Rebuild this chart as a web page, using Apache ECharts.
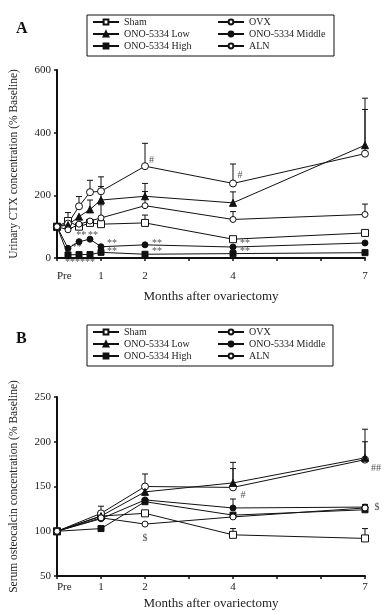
<!DOCTYPE html>
<html>
<head>
<meta charset="utf-8">
<script src="https://cdn.jsdelivr.net/npm/echarts@6/dist/echarts.min.js"></script>
<style>
html,body{margin:0;padding:0;background:#fff;}
#chart{width:383px;height:612px;}
</style>
</head>
<body>
<div id="chart"></div>
<script>
// months after ovariectomy (0 = Pre)
var monthsA = [0, 0.25, 0.5, 0.75, 1, 2, 4, 7];
var monthsB = [0, 1, 2, 4, 7];
var monthLabels = {0: 'Pre', 1: '1', 2: '2', 4: '4', 7: '7'};
var names = ['Sham', 'OVX', 'ONO-5334 Low', 'ONO-5334 Middle', 'ONO-5334 High', 'ALN'];

// panel A: urinary CTX (% baseline)
var ctxSham = [100, 118, 100, 112, 108, 112, 60, 80];
var ctxOvx = [100, 110, 165, 210, 213, 293, 238, 333];
var ctxLow = [100, 105, 132, 155, 185, 197, 176, 360];
var ctxMid = [100, 31, 52, 60, 36, 42, 35, 48];
var ctxHigh = [100, 10, 11, 11, 18, 12, 14, 17];
var ctxAln = [100, 90, 108, 118, 128, 167, 123, 139];
// upper end of error bars
var ctxShamErr = [null, null, null, null, null, 137, null, null];
var ctxOvxErr = [null, 145, 196, 248, 259, 366, 300, 474];
var ctxLowErr = [null, null, null, 185, 228, 238, 211, 510];
var ctxAlnErr = [null, null, null, null, 170, 212, 148, 172];
var ctxNotes = [[2.15, 313, '#'], [4.16, 265, '#'], [0.55, 71, '**'], [0.82, 71, '**'],
  [0.45, 34, '**'], [1.25, 48, '**'], [1.25, 22, '**'], [2.27, 48, '**'], [2.27, 20, '**'],
  [4.27, 48, '**'], [4.27, 22, '**'], [0.52, -14, '******']];

// panel B: serum osteocalcin (% baseline)
var ocSham = [100, 117, 120, 96, 92];
var ocOvx = [100, 120, 150, 149, 180];
var ocLow = [100, 117, 144, 154, 182];
var ocMid = [100, 114, 135, 126, 127];
var ocHigh = [100, 103, 133, 118, 124];
var ocAln = [100, 115, 108, 116, 126];
var ocShamErr = [null, null, null, 103, 103];
var ocOvxErr = [null, 128, 164, 170, 200];
var ocLowErr = [null, null, null, 177, 214];
var ocMidErr = [null, null, null, 136, 130];
var ocNotes = [[2, 92, '$'], [4.23, 140, '#'], [7.25, 170, '##'], [7.27, 127, '$']];

var symbols = {
	'Sham': {symbol: 'rect', size: 7, fill: '#fff'},
	'OVX': {symbol: 'circle', size: 7, fill: '#fff'},
	'ONO-5334 Low': {symbol: 'triangle', size: 7, fill: '#111'},
	'ONO-5334 Middle': {symbol: 'circle', size: 6, fill: '#111'},
	'ONO-5334 High': {symbol: 'rect', size: 6, fill: '#111'},
	'ALN': {symbol: 'circle', size: 6, fill: '#fff'}
};
var serifFont = '"Liberation Serif", "DejaVu Serif", serif';

function pairs(xs, ys){
	var out = [];
	for(var i = 0; i < xs.length; i++){
		out.push([xs[i], ys[i]]);
	}
	return out;
}
function errData(xs, ys, errs){
	var out = [];
	for(var i = 0; i < xs.length; i++){
		if(errs[i] != null) out.push([xs[i], ys[i], errs[i]]);
	}
	return out;
}
function lineSeries(name, idx, xs, ys){
	var s = symbols[name];
	return {
		name: name, type: 'line', xAxisIndex: idx, yAxisIndex: idx,
		data: pairs(xs, ys), symbol: s.symbol, symbolSize: s.size,
		showAllSymbol: true, z: 3,
		lineStyle: {color: '#111', width: 1},
		itemStyle: {color: s.fill, borderColor: '#111', borderWidth: 1, opacity: 1},
		emphasis: {disabled: true}
	};
}
function errSeries(idx, data){
	return {
		type: 'custom', xAxisIndex: idx, yAxisIndex: idx, data: data, z: 2,
		renderItem: function(params, api){
			var base = api.coord([api.value(0), api.value(1)]);
			var top = api.coord([api.value(0), api.value(2)]);
			return {
				type: 'group',
				children: [
					{type: 'line', shape: {x1: base[0], y1: base[1], x2: top[0], y2: top[1]}, style: {stroke: '#111', lineWidth: 1}},
					{type: 'line', shape: {x1: top[0] - 3, y1: top[1], x2: top[0] + 3, y2: top[1]}, style: {stroke: '#111', lineWidth: 1}}
				]
			};
		}
	};
}
function noteSeries(idx, data){
	return {
		type: 'scatter', xAxisIndex: idx, yAxisIndex: idx, data: data,
		symbolSize: 0, clip: false, silent: true, z: 4,
		label: {show: true, position: 'inside', color: '#222', fontFamily: serifFont, fontSize: 10,
			formatter: function(p){ return p.data[2]; }}
	};
}
function xAxisOpt(idx){
	return {
		type: 'value', gridIndex: idx, min: 0, max: 7, interval: 1,
		name: 'Months after ovariectomy', nameLocation: 'middle', nameGap: idx == 0 ? 32 : 21,
		nameTextStyle: {color: '#222', fontFamily: serifFont, fontSize: 13},
		axisLine: {lineStyle: {color: '#111', width: 2}},
		axisTick: {lineStyle: {color: '#111', width: 1.5}, length: 3},
		splitLine: {show: false},
		axisLabel: {color: '#222', fontFamily: serifFont, fontSize: 11, margin: idx == 0 ? 13 : 6,
			alignMinLabel: 'left',
			formatter: function(v){ return monthLabels[v] || ''; }}
	};
}
function yAxisOpt(idx, min, max, step, title){
	return {
		type: 'value', gridIndex: idx, min: min, max: max, interval: step,
		name: title, nameLocation: 'middle', nameGap: 37,
		nameTextStyle: {color: '#222', fontFamily: serifFont, fontSize: 11.5},
		axisLine: {show: true, lineStyle: {color: '#111', width: 2}},
		axisTick: {show: true, lineStyle: {color: '#111', width: 1.5}, length: 3},
		splitLine: {show: false},
		axisLabel: {color: '#222', fontFamily: serifFont, fontSize: 11, margin: 6}
	};
}
function legendOpt(data, left, top){
	return {
		data: data, orient: 'vertical', left: left, top: top, itemGap: 2,
		itemWidth: 26, itemHeight: 6, padding: 0, selectedMode: false,
		textStyle: {color: '#222', fontFamily: serifFont, fontSize: 10}
	};
}

var series = [
	lineSeries(names[0], 0, monthsA, ctxSham),
	lineSeries(names[1], 0, monthsA, ctxOvx),
	lineSeries(names[2], 0, monthsA, ctxLow),
	lineSeries(names[3], 0, monthsA, ctxMid),
	lineSeries(names[4], 0, monthsA, ctxHigh),
	lineSeries(names[5], 0, monthsA, ctxAln),
	errSeries(0, errData(monthsA, ctxSham, ctxShamErr)
		.concat(errData(monthsA, ctxOvx, ctxOvxErr))
		.concat(errData(monthsA, ctxLow, ctxLowErr))
		.concat(errData(monthsA, ctxAln, ctxAlnErr))),
	noteSeries(0, ctxNotes),
	lineSeries(names[0], 1, monthsB, ocSham),
	lineSeries(names[1], 1, monthsB, ocOvx),
	lineSeries(names[2], 1, monthsB, ocLow),
	lineSeries(names[3], 1, monthsB, ocMid),
	lineSeries(names[4], 1, monthsB, ocHigh),
	lineSeries(names[5], 1, monthsB, ocAln),
	errSeries(1, errData(monthsB, ocSham, ocShamErr)
		.concat(errData(monthsB, ocOvx, ocOvxErr))
		.concat(errData(monthsB, ocLow, ocLowErr))
		.concat(errData(monthsB, ocMid, ocMidErr))),
	noteSeries(1, ocNotes)
];

var chart = echarts.init(document.getElementById('chart'), null, {renderer: 'canvas'});
chart.setOption({
	backgroundColor: '#fff',
	animation: false,
	title: [
		{text: 'A', left: 11, top: 16, textStyle: {fontFamily: serifFont, fontSize: 16, fontWeight: 'bold', color: '#111'}},
		{text: 'B', left: 11, top: 326, textStyle: {fontFamily: serifFont, fontSize: 16, fontWeight: 'bold', color: '#111'}}
	],
	legend: [
		legendOpt([names[0], names[2], names[4]], 92, 17),
		legendOpt([names[1], names[3], names[5]], 217, 17),
		legendOpt([names[0], names[2], names[4]], 92, 327),
		legendOpt([names[1], names[3], names[5]], 217, 327)
	],
	graphic: [
		{type: 'rect', shape: {x: 87, y: 15, width: 247, height: 41}, style: {fill: 'none', stroke: '#111', lineWidth: 1}},
		{type: 'rect', shape: {x: 87, y: 325, width: 246, height: 41}, style: {fill: 'none', stroke: '#111', lineWidth: 1}}
	],
	grid: [
		{left: 57, top: 70, width: 308, height: 188},
		{left: 57, top: 397, width: 308, height: 179}
	],
	xAxis: [xAxisOpt(0), xAxisOpt(1)],
	yAxis: [
		yAxisOpt(0, 0, 600, 200, 'Urinary CTX concentration (% Baseline)'),
		yAxisOpt(1, 50, 250, 50, 'Serum osteocalcin concentration (% Baseline)')
	],
	series: series
});
</script>
</body>
</html>
